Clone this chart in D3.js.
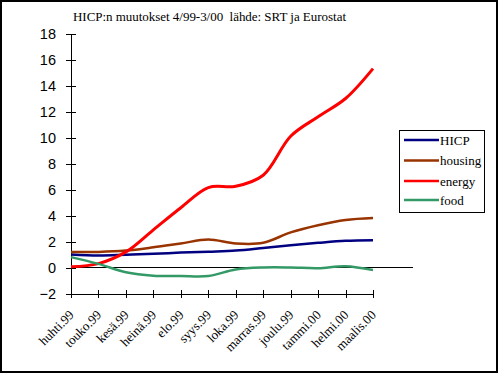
<!DOCTYPE html>
<html><head><meta charset="utf-8">
<script src="https://cdn.jsdelivr.net/npm/d3@7"></script>
<style>body{margin:0;background:#fff}svg{display:block}</style>
</head><body>
<script>
const months = ["huhti.99","touko.99","kesä.99","heinä.99","elo.99","syys.99","loka.99","marras.99","joulu.99","tammi.00","helmi.00","maalis.00"];
const hicp    = [1.0, 0.92, 0.98, 1.05, 1.15, 1.22, 1.3, 1.5, 1.72, 1.9, 2.05, 2.1];
const housing = [1.2, 1.2, 1.3, 1.55, 1.85, 2.15, 1.85, 1.9, 2.7, 3.25, 3.65, 3.8];
const energy  = [0.05, 0.3, 1.2, 2.9, 4.6, 6.15, 6.25, 7.1, 10.1, 11.6, 13.0, 15.3];
const food    = [0.8, 0.28, -0.37, -0.63, -0.65, -0.65, -0.15, 0.0, 0.0, -0.05, 0.1, -0.2];
const seriesNames = ["HICP","housing","energy","food"];
const seriesColors = ["#000080","#993300","#ff0000","#339966"];
const yTicks = [-2,0,2,4,6,8,10,12,14,16,18];
const title = "HICP:n muutokset 4/99-3/00  lähde: SRT ja Eurostat";

const W=499,H=374;
const svg=d3.select("body").append("svg").attr("width",W).attr("height",H);
svg.append("rect").attr("x",1).attr("y",1).attr("width",W-3).attr("height",H-3)
  .attr("fill","#fff").attr("stroke","#000").attr("stroke-width",2);

const x=d3.scalePoint().domain(months).range([71,373]);
const y=d3.scaleLinear().domain([-2,18]).range([293.5,33.5]);

svg.append("text").attr("x",73).attr("y",21).attr("font-family","Liberation Serif, serif")
  .attr("font-size",13).attr("textLength",273).attr("lengthAdjust","spacing")
  .attr("fill","#000").style("white-space","pre").text(title);

// zero line
svg.append("line").attr("x1",71).attr("x2",413).attr("y1",y(0)).attr("y2",y(0))
  .attr("stroke","#000").attr("stroke-width",1).attr("shape-rendering","crispEdges");

// y axis
const yAxis=svg.append("g").attr("transform","translate(71,0)")
  .call(d3.axisLeft(y).tickValues(yTicks).tickSize(5).tickFormat(d3.format("d")));
yAxis.select(".domain").attr("shape-rendering","crispEdges");
yAxis.selectAll(".tick line").attr("x2",5).attr("x1",-5).attr("shape-rendering","crispEdges");
yAxis.selectAll(".tick text").attr("x",-15).attr("font-family","Liberation Sans, Arial, sans-serif").attr("font-size",14.5).attr("fill","#000");

// x axis
const xAxis=svg.append("g").attr("transform",`translate(0,${y(-2)})`)
  .call(d3.axisBottom(x).tickSize(4).tickSizeOuter(0));
xAxis.select(".domain").attr("shape-rendering","crispEdges");
xAxis.selectAll(".tick line").attr("y1",-4).attr("y2",4).attr("shape-rendering","crispEdges");
xAxis.selectAll(".tick text")
  .attr("font-family","Liberation Serif, serif").attr("font-size",13).attr("fill","#000")
  .attr("text-anchor","end").attr("x",0).attr("y",0).attr("dy","0.35em")
  .attr("transform","translate(0,19) rotate(-45)");

const line=d3.line().x((d,i)=>x(months[i])).y(d=>y(d)).curve(d3.curveCatmullRom.alpha(0.5));
const data=[hicp,housing,energy,food];
data.forEach((s,k)=>{
  svg.append("path").datum(s).attr("d",line).attr("fill","none")
    .attr("stroke",seriesColors[k]).attr("stroke-width",k===2?3:2.5);
});

// legend
const lg=svg.append("g");
lg.append("rect").attr("x",399).attr("y",130).attr("width",85).attr("height",82)
  .attr("fill","#fff").attr("stroke","#000").attr("stroke-width",1).attr("shape-rendering","crispEdges");
const rowY=[140,160.5,181,200];
seriesNames.forEach((n,k)=>{
  lg.append("line").attr("x1",404).attr("x2",439).attr("y1",rowY[k]).attr("y2",rowY[k])
    .attr("stroke",seriesColors[k]).attr("stroke-width",2.5);
  lg.append("text").attr("x",440).attr("y",rowY[k]).attr("dy","0.35em")
    .attr("font-family","Liberation Serif, serif").attr("font-size",13).attr("fill","#000").text(n);
});
</script>
</body></html>
